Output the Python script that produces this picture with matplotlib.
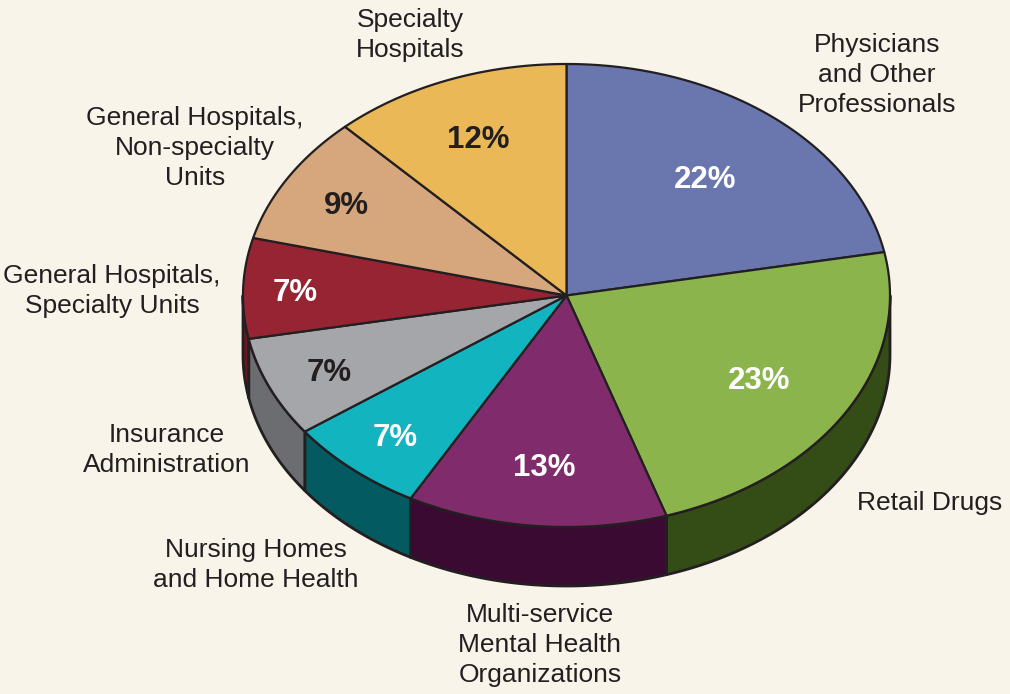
import numpy as np
import matplotlib.pyplot as plt

# slice data, clockwise from 12 o'clock
labels = ["Physicians\nand Other\nProfessionals", "Retail Drugs",
          "Multi-service\nMental Health\nOrganizations", "Nursing Homes\nand Home Health",
          "Insurance\nAdministration", "General Hospitals,\nSpecialty Units",
          "General Hospitals,\nNon-specialty\nUnits", "Specialty\nHospitals"]
shares = [22, 23, 13, 7, 7, 7, 9, 12]
top_colors = ["#6A77AF", "#8CB44D", "#7F2B6C", "#12B4C0",
              "#A5A6A9", "#972433", "#D6A77D", "#EAB857"]
side_colors = ["#3A4470", "#344C15", "#3A0A33", "#035A61",
               "#6C6D70", "#6B1620", "#8A6A4E", "#9A7A38"]
pct_colors = ["white", "white", "white", "white",
              "#231F20", "white", "#231F20", "#231F20"]

# layout (pixels)
cx, cy, rx, ry, depth = 566.5, 295.5, 323.5, 231.5, 59
pct_radius = [0.67, 0.69, 0.73, 0.80, 0.80, 0.84, 0.79, 0.74]
pct_dy = 4
label_pos = [(877, 75), (930, 503), (540, 645), (256, 565),
             (167, 450), (112, 291), (195, 148), (410, 35)]
bg = "#F8F4EA"
ink = "#231F20"

fig = plt.figure(figsize=(10.1, 6.94), dpi=100, facecolor=bg)
ax = fig.add_axes([0, 0, 1, 1])
ax.set_facecolor(bg)
ax.set_xlim(0, 1010)
ax.set_ylim(694, 0)
ax.axis('off')


def ell(t, dy=0):
    t = np.radians(t)
    return cx + rx * np.cos(t), cy - ry * np.sin(t) + dy


# angles in degrees, decreasing (clockwise) from 90
bounds = 90 - 360 * np.concatenate([[0], np.cumsum(shares)]) / sum(shares)

# side walls (only the front half shows)
for i in range(len(shares)):
    a, b = bounds[i], bounds[i + 1]
    hi, lo = min(a, 0), max(b, -180)
    if hi <= lo:
        continue
    t = np.linspace(hi, lo, 120)
    x1, y1 = ell(t)
    x2, y2 = ell(t[::-1], depth)
    ax.fill(np.concatenate([x1, x2]), np.concatenate([y1, y2]),
            facecolor=side_colors[i], edgecolor=ink, linewidth=2, joinstyle='round', zorder=2)

# top wedges
for i in range(len(shares)):
    a, b = bounds[i], bounds[i + 1]
    t = np.linspace(a, b, 200)
    x, y = ell(t)
    x = np.concatenate([[cx], x])
    y = np.concatenate([[cy], y])
    ax.fill(x, y, facecolor=top_colors[i], edgecolor=ink, linewidth=1.6,
            joinstyle='round', zorder=3)
    mid = (a + b) / 2
    px = cx + pct_radius[i] * rx * np.cos(np.radians(mid))
    py = cy - pct_radius[i] * ry * np.sin(np.radians(mid)) + pct_dy
    ax.text(px, py, f"{shares[i]}%", ha='center', va='center', color=pct_colors[i],
            fontsize=22.5, fontweight='bold', family='Liberation Sans', zorder=4)

for lab, (lx, ly) in zip(labels, label_pos):
    ax.text(lx, ly, lab, ha='center', va='center', color=ink, fontsize=19,
            family='Liberation Sans', linespacing=1.32, zorder=4)

fig.savefig("out.png", dpi=100, facecolor=bg)
